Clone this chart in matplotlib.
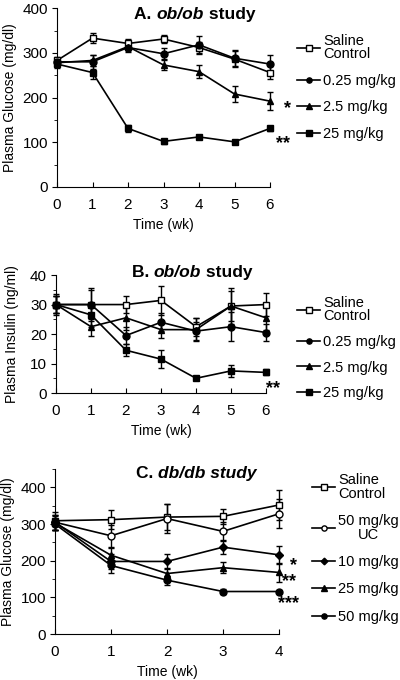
import numpy as np
import matplotlib.pyplot as plt
from matplotlib.offsetbox import TextArea, HPacker, AnnotationBbox
from matplotlib.ticker import MultipleLocator

plt.rcParams['font.family'] = ['Liberation Sans', 'DejaVu Sans']
plt.rcParams['font.size'] = 10

# A. ob/ob study - plasma glucose
weeks_a = [0, 1, 2, 3, 4, 5, 6]
glu_saline = [283, 333, 321, 331, 312, 286, 256]
glu_025 = [280, 280, 312, 298, 318, 288, 275]
glu_25 = [278, 283, 314, 273, 258, 208, 192]
glu_250 = [275, 256, 131, 102, 112, 101, 131]
glu_saline_err = [8, 12, 10, 10, 12, 18, 15]
glu_025_err = [8, 15, 10, 12, 20, 18, 20]
glu_25_err = [8, 12, 8, 12, 15, 18, 20]
glu_250_err = [8, 15, 8, 5, 5, 5, 5]

# B. ob/ob study - plasma insulin
ins_saline = [30, 30, 30, 31.4, 22.5, 29.5, 30]
ins_025 = [30, 30, 19.5, 24, 21, 22.5, 20.5]
ins_25 = [30, 22.5, 25.5, 21.5, 21.5, 29.5, 25.5]
ins_250 = [30, 26.5, 14.5, 11.5, 5, 7.5, 7]
ins_saline_err = [3.5, 5, 3, 5, 3, 5, 4]
ins_025_err = [3, 5.5, 3, 3, 3, 5, 3]
ins_25_err = [3, 3, 4, 3, 4, 6, 4]
ins_250_err = [3, 4, 2, 3, 0.5, 2, 1]

# C. db/db study - plasma glucose
weeks_c = [0, 1, 2, 3, 4]
db_saline = [309, 312, 319, 321, 352]
db_uc = [305, 268, 315, 280, 328]
db_10 = [305, 198, 198, 237, 216]
db_25 = [303, 215, 165, 181, 168]
db_50 = [300, 187, 147, 116, 116]
db_saline_err = [25, 25, 35, 20, 40]
db_uc_err = [20, 30, 40, 25, 40]
db_10_err = [20, 20, 20, 20, 25]
db_25_err = [20, 20, 15, 15, 25]
db_50_err = [15, 20, 12, 8, 5]

fig = plt.figure(figsize=(4, 6.8), dpi=100)
ax_a = fig.add_axes([0.1425, 0.725, 0.5325, 0.263])
ax_b = fig.add_axes([0.14, 0.422, 0.525, 0.1735])
ax_c = fig.add_axes([0.1375, 0.0676, 0.56, 0.2426])


def series(ax, x, y, err, marker, fill, label, ms=5):
    ax.errorbar(x, y, yerr=err, color='black', lw=1.2, marker=marker,
                ms=ms, mfc=fill, mec='black', mew=1.0, capsize=2.5,
                elinewidth=1.0, capthick=1.0, label=label, clip_on=False,
                zorder=3)


def style(ax, ymax, ymajor, yminor, xmax):
    ax.spines['top'].set_visible(False)
    ax.spines['right'].set_visible(False)
    ax.set_xlim(0, xmax)
    ax.set_ylim(0, ymax)
    ax.yaxis.set_major_locator(MultipleLocator(ymajor))
    ax.yaxis.set_minor_locator(MultipleLocator(yminor))
    ax.xaxis.set_major_locator(MultipleLocator(1))
    ax.tick_params(axis='y', which='both', direction='out', labelsize=11, pad=3)
    ax.tick_params(axis='x', direction='in', labelsize=11, pad=8)
    ax.set_xlabel('Time (wk)', fontsize=10, labelpad=4)


def title(ax, prefix, italic, suffix, xy):
    parts = [TextArea(prefix, textprops=dict(fontweight='bold', fontsize=12.5))]
    parts.append(TextArea(italic, textprops=dict(fontweight='bold',
                                                 fontstyle='italic', fontsize=12.5)))
    if suffix:
        parts.append(TextArea(suffix, textprops=dict(fontweight='bold', fontsize=12.5)))
    box = HPacker(children=parts, pad=0, sep=0)
    ab = AnnotationBbox(box, xy, xycoords='axes fraction', frameon=False,
                        box_alignment=(0.5, 0.5))
    ax.add_artist(ab)


def star(ax, x, y, s):
    ax.text(x, y, s, fontsize=13, fontweight='bold', ha='center', va='center')


# Panel A
series(ax_a, weeks_a, glu_saline, glu_saline_err, 's', 'white', 'Saline\nControl')
series(ax_a, weeks_a, glu_025, glu_025_err, 'o', 'black', '0.25 mg/kg')
series(ax_a, weeks_a, glu_25, glu_25_err, '^', 'black', '2.5 mg/kg')
series(ax_a, weeks_a, glu_250, glu_250_err, 's', 'black', '25 mg/kg')
style(ax_a, 400, 100, 50, 6)
ax_a.set_ylabel('Plasma Glucose (mg/dl)', fontsize=10, labelpad=4)
title(ax_a, 'A. ', 'ob/ob', ' study', (0.648, 0.966))
star(ax_a, 6.48, 176, '*')
star(ax_a, 6.36, 98, '**')

# Panel B
series(ax_b, weeks_a, ins_saline, ins_saline_err, 's', 'white', 'Saline\nControl')
series(ax_b, weeks_a, ins_025, ins_025_err, 'o', 'black', '0.25 mg/kg')
series(ax_b, weeks_a, ins_25, ins_25_err, '^', 'black', '2.5 mg/kg')
series(ax_b, weeks_a, ins_250, ins_250_err, 's', 'black', '25 mg/kg')
style(ax_b, 40, 10, 5, 6)
ax_b.set_ylabel('Plasma Insulin (ng/ml)', fontsize=10, labelpad=8)
title(ax_b, 'B. ', 'ob/ob', ' study', (0.648, 1.02))
star(ax_b, 6.2, 1.5, '**')

# Panel C
series(ax_c, weeks_c, db_saline, db_saline_err, 's', 'white', 'Saline\nControl')
series(ax_c, weeks_c, db_uc, db_uc_err, 'o', 'white', '50 mg/kg\nUC')
series(ax_c, weeks_c, db_10, db_10_err, 'D', 'black', '10 mg/kg', ms=4.5)
series(ax_c, weeks_c, db_25, db_25_err, '^', 'black', '25 mg/kg')
series(ax_c, weeks_c, db_50, db_50_err, 'o', 'black', '50 mg/kg')
style(ax_c, 450, 100, 50, 4)
ax_c.set_ylabel('Plasma Glucose (mg/dl)', fontsize=10, labelpad=4)
title(ax_c, 'C. ', 'db/db study', '', (0.63, 0.976))
star(ax_c, 4.25, 188, '*')
star(ax_c, 4.17, 143, '**')
star(ax_c, 4.17, 82, '***')


def legend(ax, anchor, spacing):
    handles, labels = ax.get_legend_handles_labels()
    handles = [h[0] for h in handles]
    leg = ax.legend(handles, labels, loc='upper left', bbox_to_anchor=anchor,
                    bbox_transform=fig.transFigure, frameon=False,
                    fontsize=10.5, handlelength=1.6, handletextpad=0.2,
                    labelspacing=spacing, borderpad=0, borderaxespad=0,
                    markerscale=0.75)
    for t in leg.get_texts():
        t.set_linespacing(0.95)
        if 'UC' in t.get_text():
            t.set_multialignment('center')
        else:
            t.set_multialignment('left')


legend(ax_a, (0.7425, 0.950), 0.85)
legend(ax_b, (0.7425, 0.565), 0.8)
legend(ax_c, (0.7800, 0.304), 0.92)

fig.savefig('out.png', dpi=100)
